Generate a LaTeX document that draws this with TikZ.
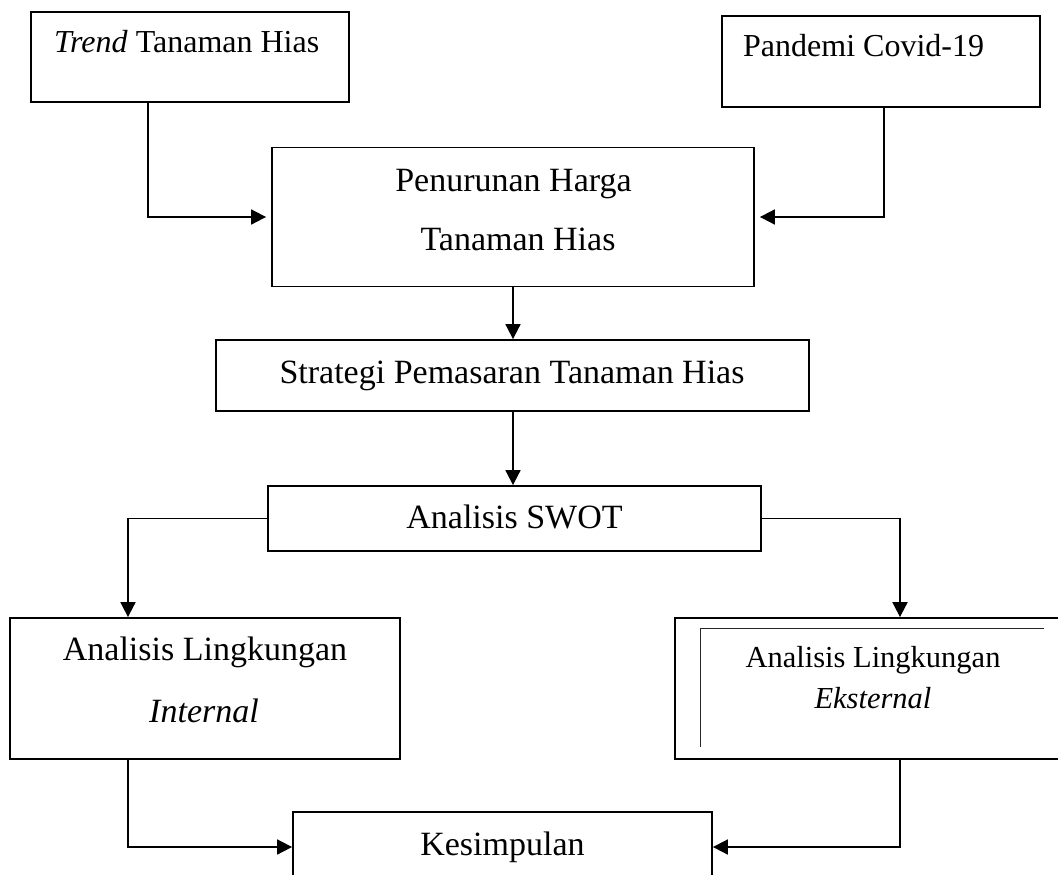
\documentclass[tikz,border=0pt]{standalone}
\usepackage{fontspec}
\setmainfont{Liberation Serif}
\usetikzlibrary{arrows.meta}
\begin{document}
\begin{tikzpicture}[x=1pt,y=-1pt,
  box/.style={draw=black,line width=1.8pt,rectangle,inner sep=0pt,anchor=center},
  lbl/.style={inner sep=0pt,font=\fontsize{34}{40}\selectfont},
  lbltop/.style={inner sep=0pt,font=\fontsize{32}{38}\selectfont},
  lblsmall/.style={inner sep=0pt,font=\fontsize{30.5}{36}\selectfont},
  link/.style={draw=black,line width=1.8pt},
  arr/.style={link,-{Triangle[length=15pt,width=15pt]}}]
\useasboundingbox (0,0) rectangle (1058,875);
\clip (0,0) rectangle (1058,875);
\fill[white] (0,0) rectangle (1058,875);
% boxes
\node[box,minimum width=318pt,minimum height=90pt] (trend) at (190,57) {};
\node[box,minimum width=318pt,minimum height=91pt] (pan) at (881,61.5) {};
\node[box,minimum width=482pt,minimum height=139pt] (pen) at (513,217) {};
\node[box,minimum width=593pt,minimum height=71pt] (str) at (512.5,375.5) {};
\node[box,minimum width=493pt,minimum height=65pt] (swot) at (514.5,518.5) {};
\node[box,minimum width=390pt,minimum height=141pt] (int) at (205,688.5) {};
\node[box,minimum width=387pt,minimum height=141pt] (eks) at (868.5,688.5) {};
\node[box,minimum width=419pt,minimum height=70pt] (kes) at (502.5,847) {};
% inner line of Eksternal box
\draw[line width=1.1pt,black!85] ([shift={(26,130)}]eks.north west) -- ([shift={(26,11)}]eks.north west) -- ([shift={(370,11)}]eks.north west);
% texts
\node[lbltop,anchor=base west] (ttrend) at (54,53) {\textit{Trend} Tanaman Hias};
\node[lbltop,anchor=base west] (tpan) at (743,57) {Pandemi Covid-19};
\node[lbl,anchor=base] (tpen1) at (513.5,191) {Penurunan Harga};
\node[lbl,anchor=base] (tpen2) at (518,250) {Tanaman Hias};
\node[lbl,anchor=base] (tstr) at (512,383) {Strategi Pemasaran Tanaman Hias};
\node[lbl,anchor=base] (tswot) at (514.5,528) {Analisis SWOT};
\node[lbl,anchor=base] (tint1) at (205,660) {Analisis Lingkungan};
\node[lbl,anchor=base] (tint2) at (204,722) {\textit{Internal}};
\node[lblsmall,anchor=base] (teks1) at (873,667) {Analisis Lingkungan};
\node[lblsmall,anchor=base] (teks2) at (873,708) {\textit{Eksternal}};
\node[lbl,anchor=base] (tkes) at (502.5,855) {Kesimpulan};
% connectors
\draw[arr,shorten >=5pt] ([xshift=-42pt]trend.south) |- (pen.west);
\draw[arr,shorten >=5pt] ([xshift=3pt]pan.south) |- (pen.east);
\draw[arr] (pen.south) -- (pen.south |- str.north);
\draw[arr] (str.south -| pen.south) -- (pen.south |- swot.north);
\draw[arr] (swot.west) -| ([xshift=-77pt]int.north);
\draw[arr] (swot.east) -| ([xshift=31.5pt]eks.north);
\draw[arr] ([xshift=-77pt]int.south) |- (kes.west);
\draw[arr] ([xshift=31.5pt]eks.south) |- (kes.east);
\end{tikzpicture}
\end{document}
